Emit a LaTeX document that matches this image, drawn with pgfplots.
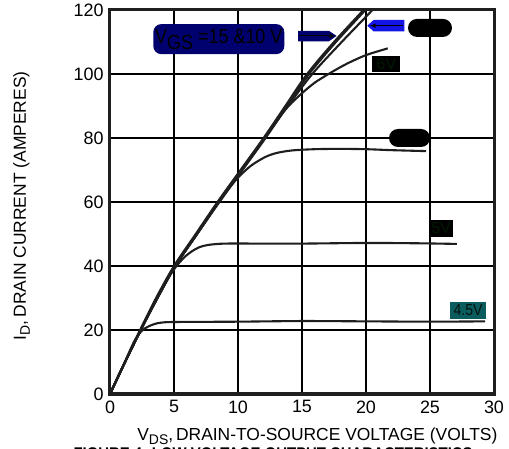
\documentclass[border=0pt]{standalone}
\usepackage{fontspec}
\setmainfont{Liberation Sans}
\newfontfamily\condfont[FakeStretch=0.88]{Liberation Sans}
\usepackage{pgfplots}
\pgfplotsset{compat=1.18}
\definecolor{navybox}{HTML}{00006E}
\definecolor{bluearrow}{HTML}{1414E6}
\definecolor{tealbox}{HTML}{0B5C5C}
\definecolor{curve}{HTML}{1E1E1E}
\pgfplotsset{idcurve/.style={color=curve, line width=2.1bp, no markers, smooth, tension=0.5}}
\begin{document}
\begin{tikzpicture}
\begin{axis}[
  scale only axis, width=384bp, height=384bp,
  xmin=0, xmax=30, ymin=0, ymax=120,
  xtick={0,5,...,30}, ytick={0,20,...,120},
  grid=major, major grid style={black, line width=1.1bp},
  axis line style={line width=3bp, color=black!88},
  major tick length=0pt,
  tick label style={font=\fontsize{18}{18}\selectfont},
  xticklabel style={yshift=-3bp},
  yticklabel style={xshift=-3bp},
  /pgf/number format/assume math mode=true,
  xlabel={V\raisebox{-4bp}{\fontsize{14}{14}\selectfont DS},\,DRAIN-TO-SOURCE VOLTAGE (VOLTS)},
  xlabel style={font=\fontsize{17.5}{18}\selectfont, at={(axis description cs:0.54,0)}, anchor=base, yshift=-46bp},
  ylabel={I\raisebox{-4bp}{\fontsize{14}{14}\selectfont D},\,DRAIN CURRENT (AMPERES)},
  ylabel style={font=\fontsize{17.5}{18}\selectfont, at={(axis description cs:0,0.49)}, anchor=base, yshift=84bp},
  clip=true,
]
% 15 V
\addplot[idcurve] coordinates {(0,0)(1,8.6)(2.35,20)(3.6,30)(5.0,40)(6.7,50)(8.4,60)(10.2,70)(12.0,80)(13.7,90)(15.4,100)(17.5,110)(19.8,120)(20.2,122)};
% 10 V
\addplot[idcurve] coordinates {(0,0)(1,8.5)(2.4,20)(3.7,30)(5.1,40)(6.8,50)(8.55,60)(10.35,70)(12.15,80)(13.85,90)(15.55,100)(17.65,110)(19.95,120)(20.35,122)};
% 7 V
\addplot[idcurve] coordinates {(0,0)(1,8.5)(2.4,20)(3.7,30)(5.1,40)(6.8,50)(8.5,60)(10.3,70)(12.1,80)(13.9,90)(15.8,100)(18.1,110)(20.5,120)(20.9,122)};
% 6 V
\addplot[idcurve] coordinates {(0,0)(1,8.5)(2.4,20)(3.7,30)(5.1,40)(6.8,50)(8.5,60)(10.3,70)(12.1,80)(13,85.5)(14,90.2)(15,94)(16,97.3)(17.2,100.3)(18.5,103.2)(20,105.9)(21.7,108)};
% 5.5 V
\addplot[idcurve] coordinates {(0,0)(1,8.5)(2.4,20)(3.7,30)(5.1,40)(6.8,50)(8.3,59)(9.2,63.8)(10,67.6)(11,71.3)(12.1,74)(13,75.3)(14.2,76.1)(16,76.5)(18,76.6)(20,76.5)(22,76.2)(24.7,75.9)};
% 5 V
\addplot[idcurve] coordinates {(0,0)(1,8.5)(2.4,20)(3.7,30)(4.6,36.6)(5.2,40)(5.8,42.7)(6.4,44.6)(7,45.9)(7.7,46.6)(9,47)(12,47)(15,47)(20,47.2)(24,47.1)(27.1,46.9)};
% 4.5 V
\addplot[idcurve] coordinates {(0,0)(1,8.5)(1.9,16.5)(2.5,19.8)(3,21.1)(3.5,21.9)(4,22.3)(5,22.5)(10,22.6)(15,22.8)(20,22.7)(25,22.6)(29.3,22.7)};

% annotations
\node[fill=navybox, rounded corners=8bp, minimum width=131bp, minimum height=30bp, inner sep=0pt, font=\fontsize{20.5}{20}\selectfont\condfont, text=black]
  at (axis cs:8.5,110.9) {V\raisebox{-6bp}{GS} =15 \&10 V};
\fill[navybox] (axis cs:14.7,113.5) -- (axis cs:17.1,113.5) -- (axis cs:17.7,111.9) -- (axis cs:17.1,110.2) -- (axis cs:14.7,110.2) -- cycle;
\draw[black, line width=1bp, -latex] (axis cs:14.8,111.9) -- (axis cs:17.6,111.9);
\fill[bluearrow] (axis cs:23.0,116.9) -- (axis cs:20.6,116.9) -- (axis cs:20.1,115.1) -- (axis cs:20.6,113.3) -- (axis cs:23.0,113.3) -- cycle;
\draw[black, line width=1bp, -latex] (axis cs:22.9,115.1) -- (axis cs:20.3,115.1);
\node[fill=black, rounded corners=9bp, minimum width=44bp, minimum height=18bp, inner sep=0pt] at (axis cs:25.0,114.4) {};
\node[fill=black, minimum width=28bp, minimum height=16bp, inner sep=0pt, text=black!90!green, font=\fontsize{16}{16}\selectfont] at (axis cs:21.6,103.1) {6V};
\node[fill=black, rounded corners=9bp, minimum width=41bp, minimum height=18bp, inner sep=0pt] at (axis cs:23.4,80.0) {};
\node[fill=black, minimum width=24bp, minimum height=17bp, inner sep=0pt, text=black!90!green, font=\fontsize{16}{16}\selectfont] at (axis cs:25.86,51.7) {5V};
\node[fill=tealbox, minimum width=36bp, minimum height=17bp, inner sep=0pt, text=black!80!tealbox, font=\fontsize{16}{16}\selectfont\condfont] at (axis cs:27.97,26.1) {4.5V};
\end{axis}
\node[anchor=base west, font=\fontsize{17}{18}\selectfont\bfseries\condfont] at (-40bp,-65bp) {FIGURE 4. LOW VOLTAGE OUTPUT CHARACTERISTICS};
\pgfresetboundingbox
\useasboundingbox (-110bp,-55bp) rectangle (399bp,394bp);
\end{tikzpicture}
\end{document}
